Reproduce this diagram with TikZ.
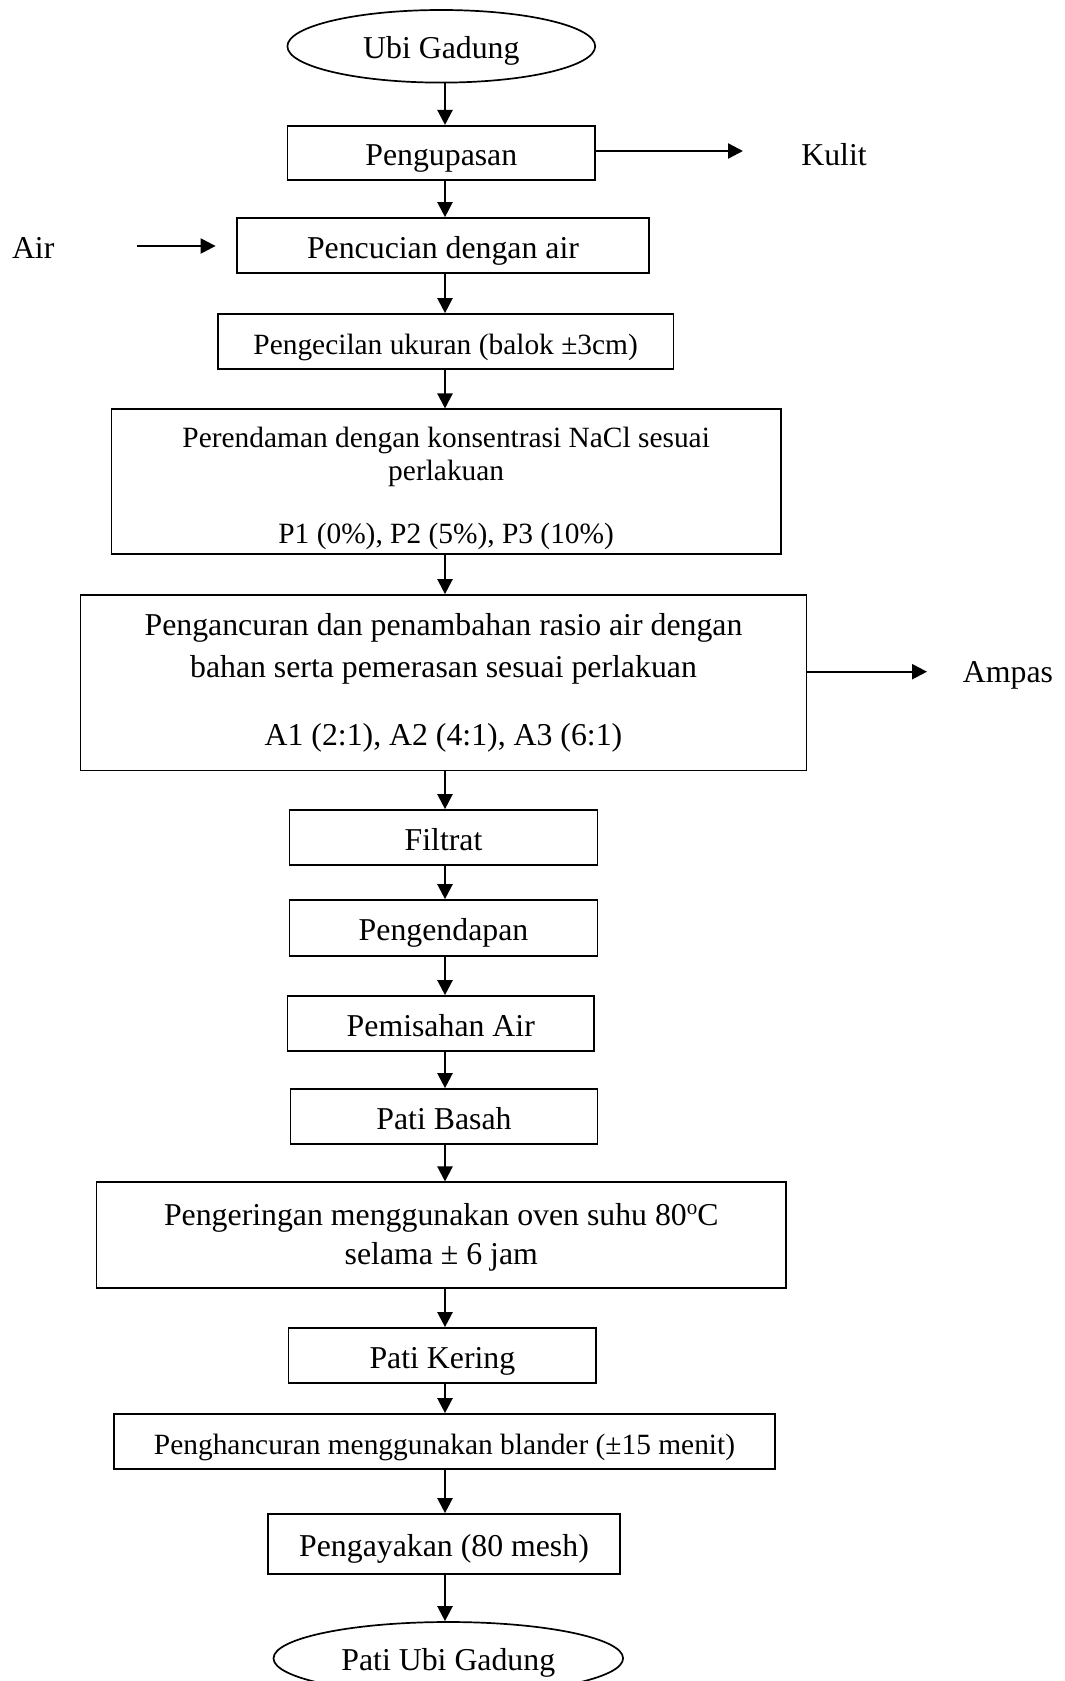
\documentclass[tikz,border=0pt]{standalone}
\usepackage{fontspec}
\setmainfont{Liberation Serif}
\usetikzlibrary{shapes.geometric,arrows.meta}
\newcommand{\mytop}[1]{\rule{0pt}{#1}}
\newcommand{\mybot}[1]{\rule[-#1]{0pt}{#1}}
\newcommand{\degsup}{\raisebox{0.75ex}{\fontsize{10.5}{10}\selectfont o}}
\begin{document}
\begin{tikzpicture}[x=0.5pt,y=-0.5pt,
  base/.style={draw, line width=0.85pt, rectangle, inner sep=0pt, align=center},
  big/.style={font=\fontsize{15.9}{21.45}\selectfont},
  small/.style={font=\fontsize{14.7}{16.1}\selectfont},
  one/.style={text height=16pt, text depth=3.5pt},
  box/.style={base, big, one},
  sbox/.style={base, small, one},
  oval/.style={draw, ellipse, line width=0.85pt, inner sep=0pt, big, text height=16pt, text depth=4pt},
  arr/.style={line width=1.15pt, -{Triangle[length=7.5pt,width=7.5pt]}},
  lbl/.style={big, inner sep=0pt, text height=16pt, text depth=3.5pt}]
\useasboundingbox (0,0) rectangle (1065,1681);
\clip (0,0) rectangle (1065,1681);

\node[oval, minimum width=153.9pt, minimum height=36.3pt] (ell1) at (441.3,46.3) {Ubi Gadung};
\node[box, minimum width=153.9pt, minimum height=27.2pt] (peng) at (441.3,153) {Pengupasan};
\node[box, minimum width=205.9pt, minimum height=27.5pt] (cuci) at (443,245.5) {Pencucian dengan air};
\node[sbox, minimum width=227.9pt, minimum height=27.5pt] (kecil) at (445.6,341.5) {Pengecilan ukuran (balok ±3cm)};
\node[base, small, minimum width=334.6pt, minimum height=72.5pt] (rendam) at (446.2,481.8)
  {\mytop{17.2pt}Perendaman dengan konsentrasi NaCl sesuai\\ perlakuan\\[15.5pt] P1 (0\%), P2 (5\%), P3 (10\%)\mybot{3.5pt}};
\node[base, big, minimum width=363pt, minimum height=87.8pt] (hancur) at (443.5,682.8)
  {\mytop{12pt}Pengancuran dan penambahan rasio air dengan\\ bahan serta pemerasan sesuai perlakuan\\[12.35pt] A1 (2:1), A2 (4:1), A3 (6:1)\mybot{4.5pt}};
\node[box, minimum width=153.9pt, minimum height=27.5pt] (filtrat) at (443.5,837.5) {Filtrat};
\node[box, minimum width=153.9pt, minimum height=28pt] (endap) at (443.5,928) {Pengendapan};
\node[box, minimum width=153.4pt, minimum height=27.5pt] (pisah) at (440.8,1023.5) {Pemisahan Air};
\node[box, minimum width=153.4pt, minimum height=27.5pt] (basah) at (444,1116.5) {Pati Basah};
\node[base, font=\fontsize{15.9}{19.5}\selectfont, minimum width=344.8pt, minimum height=53pt] (oven) at (441.3,1235.3)
  {\mytop{14pt}Pengeringan menggunakan oven suhu 80\degsup C\\ selama ± 6 jam\mybot{4.65pt}};
\node[box, minimum width=153.9pt, minimum height=27.5pt] (pkering) at (442.4,1355.5) {Pati Kering};
\node[sbox, minimum width=330.8pt, minimum height=27.5pt] (blander) at (444.5,1441.5) {Penghancuran menggunakan blander (±15 menit)};
\node[box, minimum width=175.9pt, minimum height=30pt] (ayak) at (444,1544) {Pengayakan (80 mesh)};
\node[oval, minimum width=174.8pt, minimum height=36.3pt] (ell2) at (448.3,1658.3) {Pati Ubi Gadung};

\node[lbl] (kulit) at (834,153.2) {Kulit};
\node[lbl] (air) at (33.2,245.8) {Air};
\node[lbl] (ampas) at (1008,669.5) {Ampas};

\coordinate (spine) at (445,0);
\draw[arr] (spine |- ell1.south) -- (spine |- peng.north);
\draw[arr] (spine |- peng.south) -- (spine |- cuci.north);
\draw[arr] (spine |- cuci.south) -- (spine |- kecil.north);
\draw[arr] (spine |- kecil.south) -- (spine |- rendam.north);
\draw[arr] (spine |- rendam.south) -- (spine |- hancur.north);
\draw[arr] (spine |- hancur.south) -- (spine |- filtrat.north);
\draw[arr] (spine |- filtrat.south) -- (spine |- endap.north);
\draw[arr] (spine |- endap.south) -- (spine |- pisah.north);
\draw[arr] (spine |- pisah.south) -- (spine |- basah.north);
\draw[arr] (spine |- basah.south) -- (spine |- oven.north);
\draw[arr] (spine |- oven.south) -- (spine |- pkering.north);
\draw[arr] (spine |- pkering.south) -- (spine |- blander.north);
\draw[arr] (spine |- blander.south) -- (spine |- ayak.north);
\draw[arr] (spine |- ayak.south) -- (spine |- ell2.north);

\coordinate (kulitend) at (743,151);
\draw[arr] (peng.east |- kulitend) -- (kulitend);
\coordinate (airstart) at (137.3,246);
\coordinate (airend) at (215.6,246);
\draw[arr] (airstart) -- (airend);
\coordinate (ampasend) at (927,671.7);
\draw[arr] (hancur.east |- ampasend) -- (ampasend);
\end{tikzpicture}
\end{document}
